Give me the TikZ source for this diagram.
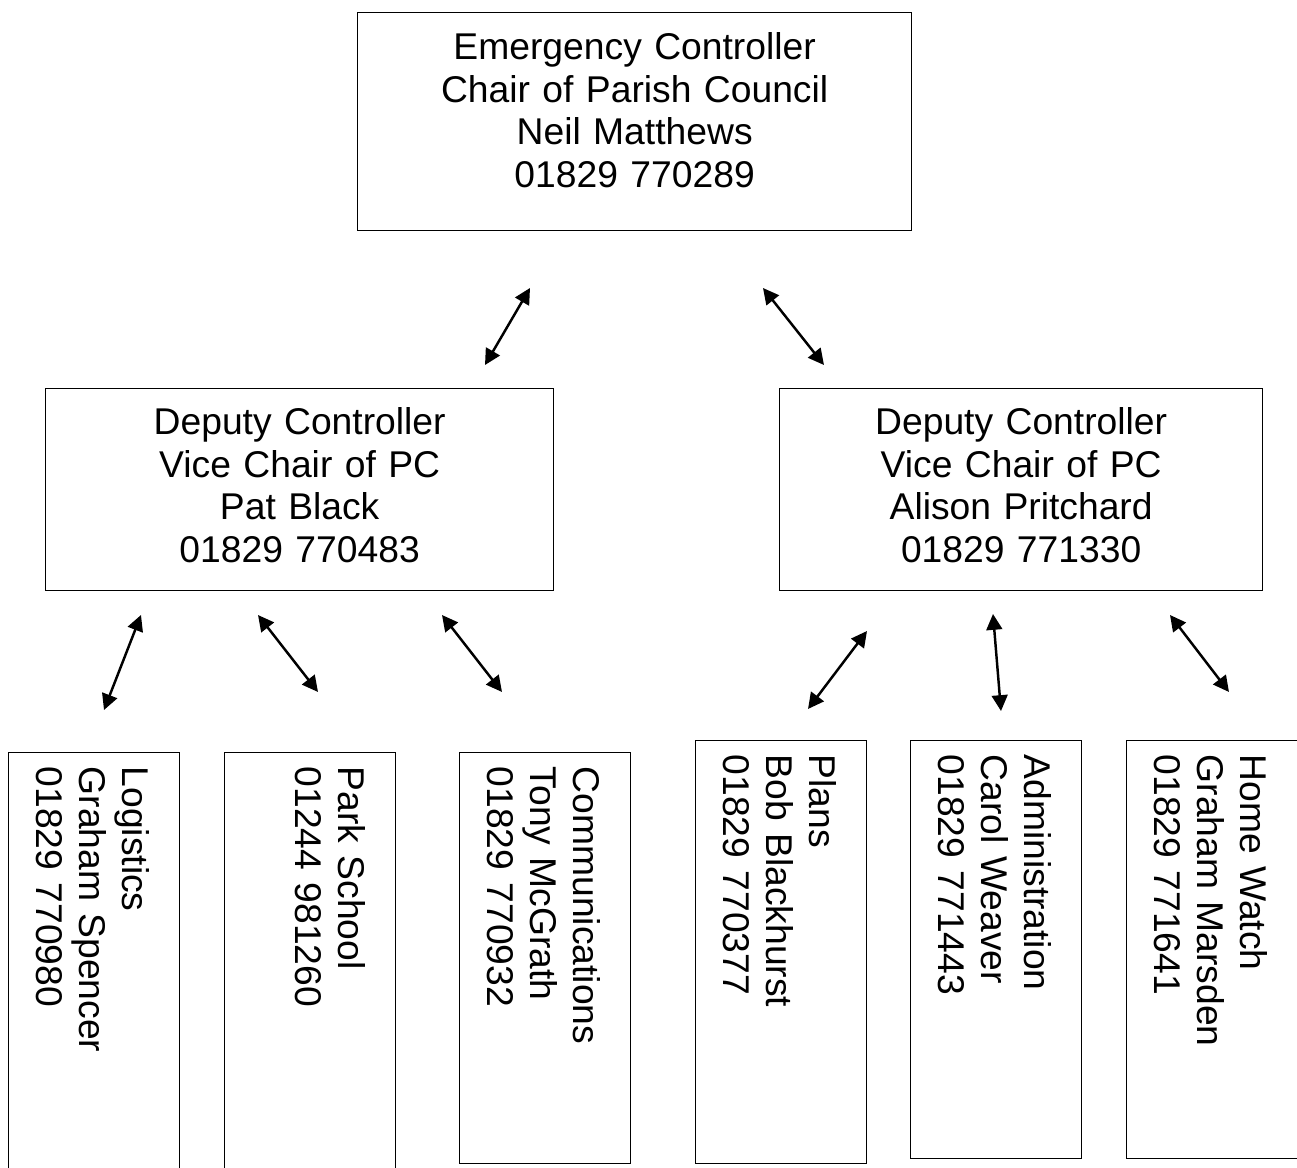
\documentclass[tikz,border=0pt]{standalone}
\usepackage{fontspec}
\setmainfont{Liberation Sans}
\usetikzlibrary{arrows.meta}

\begin{document}
\begin{tikzpicture}[
        x=0.2mm, y=-0.2mm,
        font=\fontsize{21.2}{24.4}\selectfont,
        ctrl/.style={rectangle, draw, line width=0.75pt, inner sep=0pt, align=center, anchor=north west},
        team/.style={rectangle, draw, line width=0.75pt, rotate=-90, anchor=north west, inner xsep=2.8mm, inner ysep=0pt, align=left, text height=11.4mm, text depth=22.8mm},
        link/.style={line width=1.4pt, {Triangle[length=9pt,width=9pt]}-{Triangle[length=9pt,width=9pt]}}
    ]
        \useasboundingbox (0,0) rectangle (1297,1168);

        % Controller
        \node[ctrl, text width=110.8mm, text height=9.3mm, text depth=34.3mm] (boss) at (357,12) {Emergency Controller\\Chair of Parish Council\\Neil Matthews\\01829 770289};

        % Deputies
        \node[ctrl, text width=101.6mm, text height=9.1mm, text depth=31.3mm] (dep1) at (45,388) {Deputy Controller\\Vice Chair of PC\\Pat Black\\01829 770483};
        \node[ctrl, text width=96.6mm, text height=9.1mm, text depth=31.3mm] (dep2) at (779,388) {Deputy Controller\\Vice Chair of PC\\Alison Pritchard\\01829 771330};

        % Teams
        \node[team, text width=80mm] (logistics) at (180,752) {Logistics\\Graham Spencer\\01829 770980};
        \node[team, text width=80mm] (school) at (396,752) {Park School\\01244 981260};
        \node[team, text width=76.6mm] (comms) at (631,752) {Communications\\Tony McGrath\\01829 770932};
        \node[team, text width=79mm] (plans) at (867,740) {Plans\\Bob Blackhurst\\01829 770377};
        \node[team, text width=78mm] (admin) at (1082,740) {Administration\\Carol Weaver\\01829 771443};
        \node[team, text width=78mm] (watch) at (1298,740) {Home Watch\\Graham Marsden\\01829 771641};

        % Arrow ends
        \coordinate (boss-l) at (530,288);   \coordinate (dep1-t) at (485,365);
        \coordinate (boss-r) at (763,288);   \coordinate (dep2-t) at (824,365);
        \coordinate (dep1-a) at (141,615);   \coordinate (logistics-t) at (104,710);
        \coordinate (dep1-b) at (258,615);   \coordinate (school-t) at (318,692);
        \coordinate (dep1-c) at (442,615);   \coordinate (comms-t) at (502,692);
        \coordinate (dep2-a) at (867,631);   \coordinate (plans-t) at (808,709);
        \coordinate (dep2-b) at (993,614);   \coordinate (admin-t) at (1001,711);
        \coordinate (dep2-c) at (1170,615);  \coordinate (watch-t) at (1229,692);

        % Links
        \draw[link] (boss-l) -- (dep1-t);
        \draw[link] (boss-r) -- (dep2-t);
        \draw[link] (dep1-a) -- (logistics-t);
        \draw[link] (dep1-b) -- (school-t);
        \draw[link] (dep1-c) -- (comms-t);
        \draw[link] (dep2-a) -- (plans-t);
        \draw[link] (dep2-b) -- (admin-t);
        \draw[link] (dep2-c) -- (watch-t);
\end{tikzpicture}
\end{document}
